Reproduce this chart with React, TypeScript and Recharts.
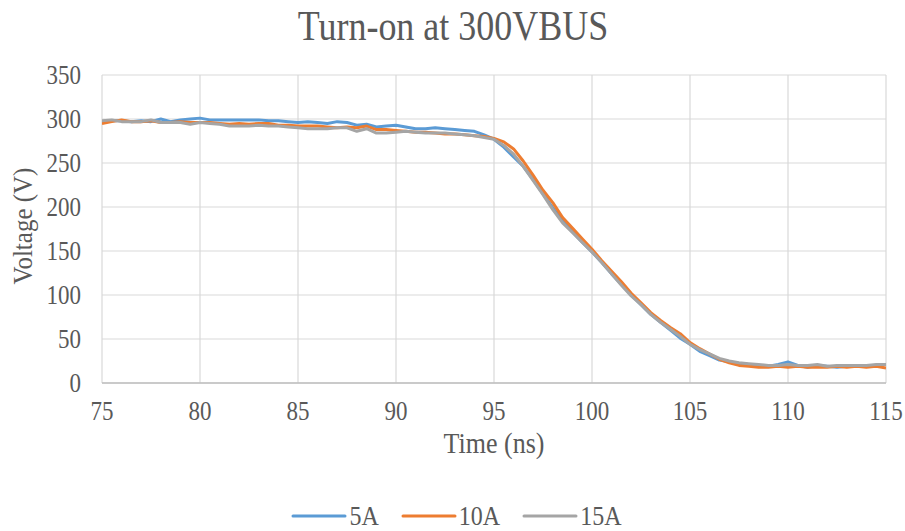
import React from 'react';
import { LineChart, Line, XAxis, YAxis, CartesianGrid, Legend } from 'recharts';

const time = [
  75, 75.5, 76, 76.5, 77, 77.5, 78, 78.5, 79, 79.5,
  80, 80.5, 81, 81.5, 82, 82.5, 83, 83.5, 84, 84.5,
  85, 85.5, 86, 86.5, 87, 87.5, 88, 88.5, 89, 89.5,
  90, 90.5, 91, 91.5, 92, 92.5, 93, 93.5, 94, 94.5,
  95, 95.5, 96, 96.5, 97, 97.5, 98, 98.5, 99, 99.5,
  100, 100.5, 101, 101.5, 102, 102.5, 103, 103.5, 104, 104.5,
  105, 105.5, 106, 106.5, 107, 107.5, 108, 108.5, 109, 109.5,
  110, 110.5, 111, 111.5, 112, 112.5, 113, 113.5, 114, 114.5,
  115,
];

const v5A = [
  297, 298, 298, 297, 298, 297, 300, 297, 299, 300,
  301, 299, 299, 299, 299, 299, 299, 298, 298, 297,
  296, 297, 296, 295, 297, 296, 293, 294, 291, 292,
  293, 291, 289, 289, 290, 289, 288, 287, 286, 282,
  277, 268, 257, 246, 231, 215, 199, 184, 172, 160,
  149, 137, 124, 112, 100, 89, 78, 69, 60, 51,
  44, 36, 31, 26, 24, 22, 21, 20, 19, 21,
  24, 20, 18, 20, 19, 18, 19, 20, 19, 20,
  21,
];

const v10A = [
  295, 297, 299, 297, 297, 298, 296, 296, 297, 296,
  296, 296, 295, 294, 295, 294, 295, 295, 293, 293,
  292, 292, 292, 291, 290, 291, 290, 292, 288, 288,
  287, 286, 285, 285, 284, 283, 283, 282, 281, 280,
  278, 274, 266, 252, 236, 219, 205, 188, 176, 164,
  152, 139, 127, 115, 102, 91, 80, 71, 63, 56,
  46, 39, 33, 27, 23, 20, 19, 18, 18, 19,
  18, 19, 18, 18, 18, 19, 18, 19, 18, 19,
  17,
];

const v15A = [
  298, 299, 297, 297, 297, 299, 296, 296, 296, 294,
  296, 295, 294, 292, 292, 292, 293, 292, 292, 291,
  290, 289, 289, 289, 290, 290, 286, 289, 284, 284,
  285, 286, 285, 284, 284, 284, 283, 282, 281, 279,
  277, 270, 260, 246, 230, 214, 197, 182, 171, 160,
  149, 137, 124, 111, 99, 89, 78, 69, 61, 53,
  44, 38, 33, 28, 25, 23, 22, 21, 20, 20,
  21, 20, 20, 21, 19, 20, 20, 20, 20, 21,
  21,
];

const xTicks = [75, 80, 85, 90, 95, 100, 105, 110, 115];
const yTicks = [0, 50, 100, 150, 200, 250, 300, 350];

const seriesNames = ['5A', '10A', '15A'];
const seriesColors = ['#5b9bd5', '#ed7d31', '#a5a5a5'];
const seriesValues = [v5A, v10A, v15A];

const data = time.map((t, i) => {
  const row: Record<string, number> = { t };
  seriesNames.forEach((n, k) => {
    row[n] = seriesValues[k][i];
  });
  return row;
});

const FONT = 'Liberation Serif, Times New Roman, Times, serif';
const TEXT = '#595959';

const XTick = (props: any) => {
  const { x, y, payload } = props;
  return (
    <text
      transform={`translate(${x},${y}) scale(1,1.15)`}
      x={0}
      y={32}
      textAnchor="middle"
      style={{ fontFamily: FONT }}
      fontSize={23}
      fill={TEXT}
    >
      {payload.value}
    </text>
  );
};

const YTick = (props: any) => {
  const { x, y, payload } = props;
  return (
    <text
      transform={`translate(${x},${y}) scale(1,1.15)`}
      x={-21}
      y={7.8}
      textAnchor="end"
      style={{ fontFamily: FONT }}
      fontSize={23}
      fill={TEXT}
    >
      {payload.value}
    </text>
  );
};

const LegendContent = () => {
  return (
    <div
      style={{
        display: 'flex',
        justifyContent: 'center',
        alignItems: 'center',
        fontFamily: FONT,
        fontSize: 24,
        color: TEXT,
        paddingLeft: 8,
      }}
    >
      {seriesNames.map((n, i) => (
        <div
          key={n}
          style={{ display: 'flex', alignItems: 'center', marginLeft: i === 0 ? 0 : 22 }}
        >
          <svg width={56} height={10} style={{ display: 'block' }}>
            <line x1={2} y1={5} x2={54} y2={5} stroke={seriesColors[i]} strokeWidth={3} strokeLinecap="round" />
          </svg>
          <span style={{ marginLeft: 2, display: 'inline-block', transform: 'scaleY(1.12)', lineHeight: '26px' }}>
            {n}
          </span>
        </div>
      ))}
    </div>
  );
};

export default function App() {
  return (
    <div style={{ position: 'absolute', left: 0, top: 0, width: 905, height: 531, background: '#fff', fontFamily: FONT }}>
      <LineChart
        width={905}
        height={531}
        data={data}
        margin={{ top: 75, right: 19, bottom: 118, left: 0 }}
        style={{ fontFamily: FONT }}
      >
        <CartesianGrid stroke="#d9d9d9" strokeWidth={1.2} />
        <XAxis
          dataKey="t"
          type="number"
          domain={[75, 115]}
          ticks={xTicks}
          interval={0}
          height={30}
          tickSize={0}
          tickMargin={0}
          tickLine={false}
          axisLine={{ stroke: '#bfbfbf', strokeWidth: 1.5 }}
          tick={<XTick />}
          allowDataOverflow
        />
        <YAxis
          type="number"
          domain={[0, 350]}
          ticks={yTicks}
          interval={0}
          width={102}
          tickSize={0}
          tickMargin={0}
          tickLine={false}
          axisLine={false}
          tick={<YTick />}
        />
        <Legend
          verticalAlign="middle"
          align="center"
          layout="horizontal"
          wrapperStyle={{ top: 503, left: 0, width: 905 }}
          content={<LegendContent />}
        />
        {seriesNames.map((n, k) => (
          <Line
            key={n}
            dataKey={n}
            name={n}
            type="linear"
            stroke={seriesColors[k]}
            strokeWidth={3}
            strokeLinejoin="round"
            dot={false}
            activeDot={false}
            isAnimationActive={false}
          />
        ))}
      </LineChart>
      <svg
        width={905}
        height={531}
        style={{ position: 'absolute', left: 0, top: 0, pointerEvents: 'none', fontFamily: FONT }}
      >
        <text
          transform="translate(453,40) scale(1,1.2)"
          textAnchor="middle"
          fontSize={36}
          fill={TEXT}
        >
          Turn-on at 300VBUS
        </text>
        <text
          transform="translate(494,453) scale(1,1.15)"
          textAnchor="middle"
          fontSize={26}
          fill={TEXT}
        >
          Time (ns)
        </text>
        <text
          transform="translate(32,226) rotate(-90) scale(1,1.12)"
          textAnchor="middle"
          fontSize={25}
          fill={TEXT}
        >
          Voltage (V)
        </text>
      </svg>
    </div>
  );
}
